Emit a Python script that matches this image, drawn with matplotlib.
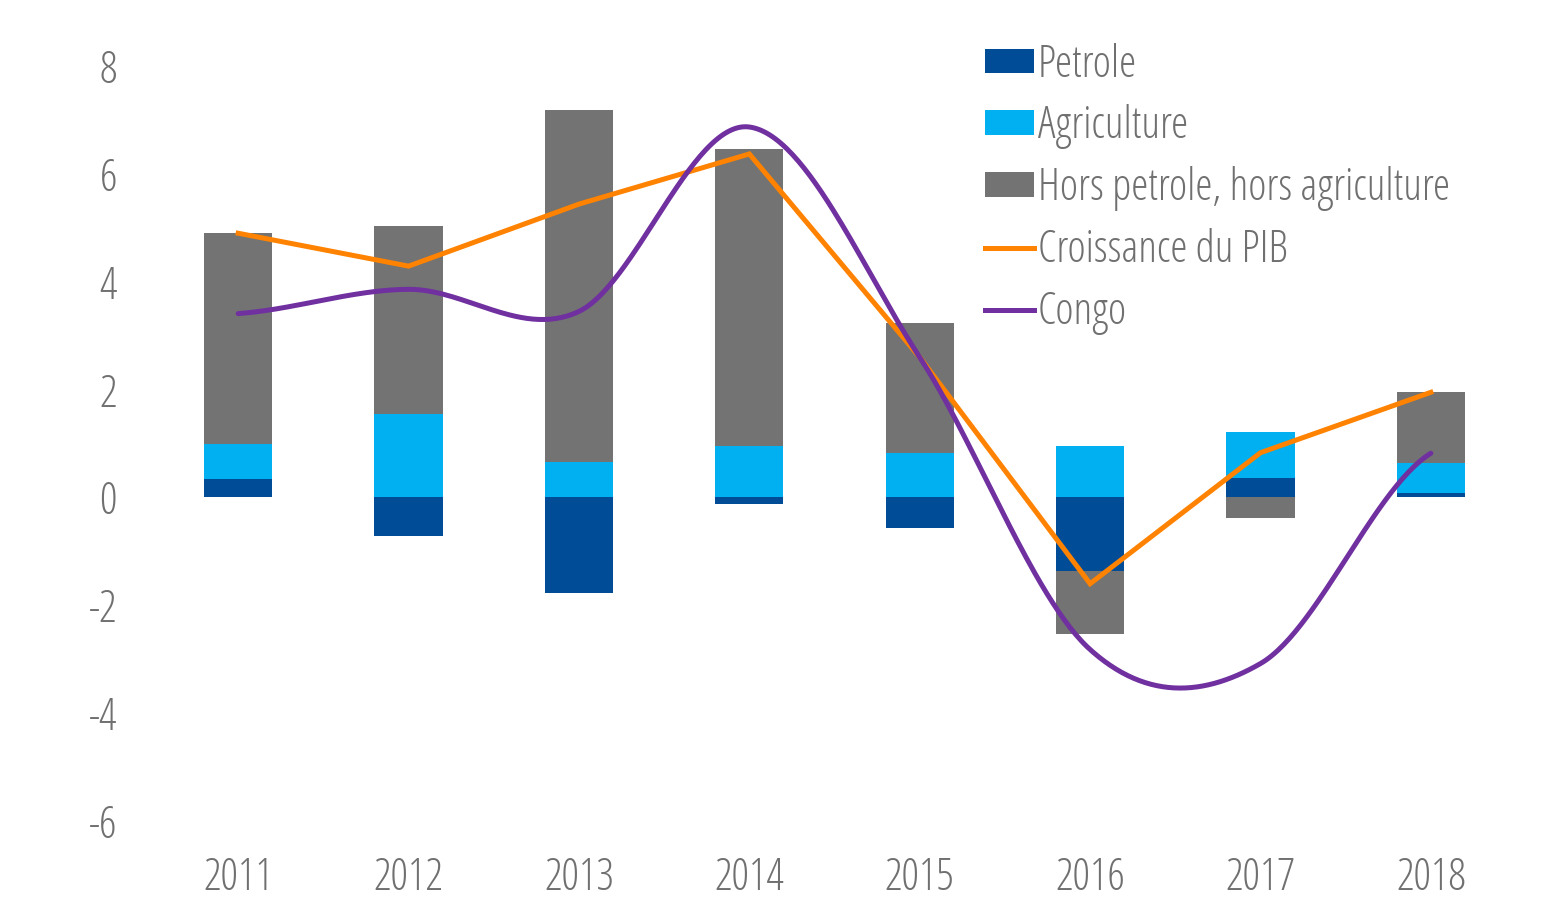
import numpy as np
import matplotlib
matplotlib.use("Agg")
import matplotlib.pyplot as plt
from matplotlib.patches import Patch
from matplotlib.lines import Line2D

years = ["2011", "2012", "2013", "2014", "2015", "2016", "2017", "2018"]
petrole = [0.35, -0.72, -1.77, -0.13, -0.56, -1.37, 0.37, 0.09]
agriculture = [0.65, 1.54, 0.65, 0.95, 0.82, 0.95, 0.85, 0.54]
hors = [3.90, 3.49, 6.53, 5.51, 2.41, -1.17, -0.39, 1.32]
croissance = [4.90, 4.29, 5.44, 6.37, 2.60, -1.60, 0.83, 1.95]
congo = [3.41, 3.86, 3.45, 6.87, 2.60, -2.82, -3.08, 0.82]
yticks = [-6, -4, -2, 0, 2, 4, 6, 8]

C_PET = "#004C97"
C_AGR = "#00B0F0"
C_HORS = "#727372"
C_ORA = "#FF8200"
C_PUR = "#7030A0"
TXT = "#707070"

plt.rcParams['font.family'] = ['Open Sans', 'DejaVu Sans']
plt.rcParams['font.stretch'] = 'condensed'
plt.rcParams['font.weight'] = 'light'

FS = 31.5

fig = plt.figure(figsize=(15.47, 9.05), dpi=100)
ax = fig.add_axes([0.0989, 0.0928, 0.8811, 0.8342])

x = np.arange(len(years))
w = 0.4
series = [(petrole, C_PET), (agriculture, C_AGR), (hors, C_HORS)]
pos_base = np.zeros(len(years))
neg_base = np.zeros(len(years))
for vals, col in series:
    v = np.array(vals, dtype=float)
    bottoms = np.where(v >= 0, pos_base, neg_base)
    ax.bar(x, v, w, bottom=bottoms, color=col, edgecolor="none", zorder=2)
    pos_base = pos_base + np.where(v >= 0, v, 0)
    neg_base = neg_base + np.where(v < 0, v, 0)

ax.plot(x, croissance, color=C_ORA, lw=3.6, zorder=3, solid_joinstyle="miter")

# smoothed line (Catmull-Rom style, like spreadsheet "smooth line")
cy = np.array(congo, dtype=float)
ext = np.concatenate([[cy[0]], cy, [cy[-1]]])
xs, ys = [], []
for i in range(len(cy) - 1):
    p0, p1, p2, p3 = ext[i], ext[i + 1], ext[i + 2], ext[i + 3]
    m1 = (p2 - p0) / 2.0
    m2 = (p3 - p1) / 2.0
    t = np.linspace(0, 1, 60)
    h00 = 2 * t**3 - 3 * t**2 + 1
    h10 = t**3 - 2 * t**2 + t
    h01 = -2 * t**3 + 3 * t**2
    h11 = t**3 - t**2
    xs.append(x[i] + t)
    ys.append(h00 * p1 + h10 * m1 + h01 * p2 + h11 * m2)
ax.plot(np.concatenate(xs), np.concatenate(ys), color=C_PUR, lw=3.6,
        zorder=4, solid_capstyle="round")

ax.set_xlim(-0.5, len(years) - 0.5)
ax.set_ylim(-6, 8)
ax.set_yticks(yticks)
ax.set_yticklabels([str(t) for t in yticks])
ax.set_xticks(x)
ax.set_xticklabels(years)
for s in ax.spines.values():
    s.set_visible(False)
ax.tick_params(axis="both", length=0, labelsize=FS, colors=TXT)
ax.tick_params(axis="y", pad=26)
ax.tick_params(axis="x", pad=25)

handles = [
    Patch(facecolor=C_PET, edgecolor="none"),
    Patch(facecolor=C_AGR, edgecolor="none"),
    Patch(facecolor=C_HORS, edgecolor="none"),
    Line2D([0], [0], color=C_ORA, lw=3.6),
    Line2D([0], [0], color=C_PUR, lw=3.6),
]
labels = ["Petrole", "Agriculture", "Hors petrole, hors agriculture",
          "Croissance du PIB", "Congo"]
leg = fig.legend(handles, labels, loc="upper left",
                 bbox_to_anchor=(0.637, 0.953), frameon=False,
                 fontsize=FS, labelcolor=TXT, handlelength=1.1,
                 handleheight=0.5, handletextpad=0.1, labelspacing=0.385,
                 borderpad=0, borderaxespad=0)

fig.savefig("out.png", dpi=100, facecolor="white")
